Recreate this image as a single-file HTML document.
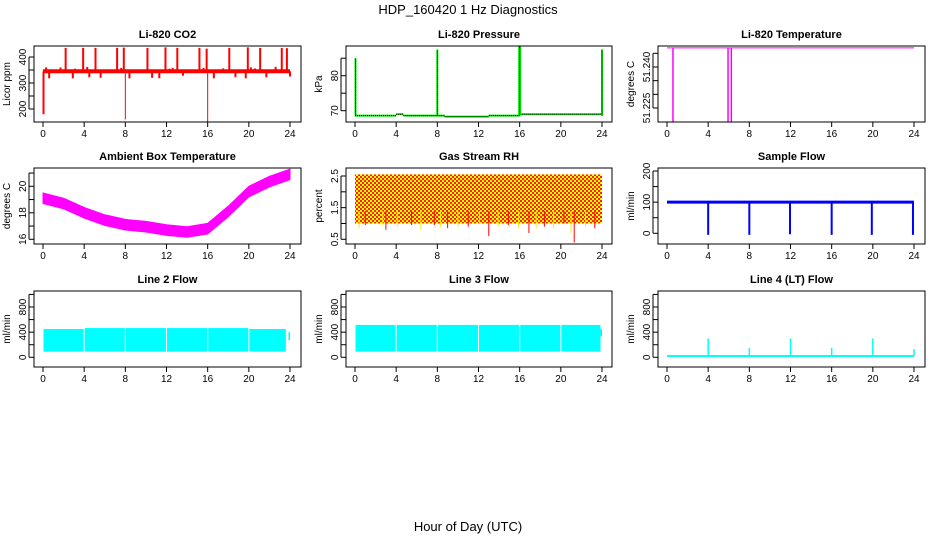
<!DOCTYPE html>
<html><head><meta charset="utf-8">
<style>
html,body{margin:0;padding:0;background:#fff;}
svg{display:block;font-family:"Liberation Sans",Arial,sans-serif;}
</style></head>
<body>
<svg id="chart" width="936" height="540" viewBox="0 0 936 540" xmlns="http://www.w3.org/2000/svg">
<defs>
<pattern id="rhpat" width="4" height="4" patternUnits="userSpaceOnUse">
<rect width="4" height="4" fill="#ffff00"/><rect width="2" height="2" fill="#ff2000"/><rect x="2" y="2" width="2" height="2" fill="#ff2000"/>
</pattern>
</defs>
<text x="468" y="14" text-anchor="middle" font-size="13">HDP_160420  1 Hz Diagnostics</text>
<text x="468" y="531" text-anchor="middle" font-size="13">Hour of Day (UTC)</text>
</svg>
<script>
// ---- data ----
const xTicks = [0,4,8,12,16,20,24];
const co2Base = 345;
const co2UpTimes = [2.2,3.9,5.1,7.2,7.85,10.15,11.9,13.05,15.2,15.9,18.1,19.9,21.1,23.2,23.7];
const co2UpVals = [435,435,435,435,436,435,437,435,435,432,435,437,435,435,434];
const co2SmallTimes = [0.3,0.6,1.7,2.9,3.1,4.3,4.5,5.6,6.4,7.6,8.4,9.1,10.6,11.3,11.7,12.3,12.6,13.6,14.4,15.6,16.6,17.5,18.7,19.7,20.2,20.6,21.7,22.6,23.4,24.0];
const co2SmallVals = [360,318,360,318,355,362,322,320,352,358,318,352,320,318,352,355,358,328,352,358,318,356,322,318,360,356,322,362,352,325];
const co2DownTimes = [0.05,8.0,16.0];
const co2DownVals = [180,160,135];

const presSegStart = [0.0,4.0,4.7,8.7,13.0,16.0];
const presSegEnd = [4.0,4.7,8.7,13.0,16.0,24.0];
const presSegVals = [68.6,69.0,68.6,68.3,68.6,69.0];
const presSpikeTimes = [0.05,8.0,16.0,24.0];
const presSpikeVals = [85.0,87.5,88.3,87.5];

const tempLevel = 51.247;
const tempSpikeTimes = [0.58,5.93,6.25];
const tempSpikeVals = [51.21,51.21,51.21];

const ambTimes = [0,2,4,6,8,10,12,14,16,18,20,22,24];
const ambVals = [19.1,18.7,18.0,17.45,17.1,16.95,16.7,16.55,16.8,18.1,19.6,20.35,20.9];
const ambHalf = 0.4;

const rhTop = 2.55;
const rhBottom = 1.0;
const rhSpikeTimes = [0.4,1.0,2.7,3.0,4.1,5.5,6.4,7.7,8.3,9.0,10.0,11.0,12.1,13.0,13.9,14.9,15.9,16.9,17.6,18.4,19.3,20.3,21.0,21.3,22.4,23.3];
const rhSpikeVals = [0.85,0.95,0.95,0.8,0.9,0.95,0.8,0.95,0.9,0.85,0.9,0.9,1.0,0.6,0.9,0.95,0.85,0.7,0.85,0.9,0.85,1.0,0.7,0.4,0.9,0.85];

const sfBase = 100;
const sfDipTimes = [4.0,8.0,11.95,16.0,19.9,23.9];
const sfDipVals = [-5,-5,-3,-5,-5,-5];

const l2SegStart = [0.05,4.05,8.05,12.05,16.05,20.05,23.85];
const l2SegEnd = [3.95,7.95,11.95,15.95,19.95,23.6,24.0];
const l2SegTop = [450,465,465,465,465,450,400];
const l2SegBottom = [90,90,90,90,90,90,270];

const l3SegStart = [0.05,4.05,8.05,12.05,16.05,20.05,23.85];
const l3SegEnd = [3.95,7.95,11.95,15.95,19.95,23.85,24.0];
const l3SegTop = [515,515,515,515,515,515,450];
const l3SegBottom = [90,90,90,90,90,90,330];

const l4Base = 20;
const l4SpikeTimes = [4,8,12,16,20,24];
const l4SpikeVals = [300,150,300,150,300,130];

// ---- layout ----
const svg = document.getElementById('chart');
const NS = 'http://www.w3.org/2000/svg';
const colX0 = [43,355,667], colBL = [34,346,658], colBR = [301,612,925];
const rowT = [46,168,291], rowB = [122,244,367];
function el(tag, attrs, parent){const e=document.createElementNS(NS,tag);for(const k in attrs)e.setAttribute(k,attrs[k]);(parent||svg).appendChild(e);return e;}

function panel(name, r, c, title, ylab, v1, p1, v2, p2, ticks, labels){
  const g = el('g',{});
  
  
  const x = h => colX0[c] + h*(247/24);
  const y = v => p1 + (v - v1)*(p2 - p1)/(v2 - v1);
  const clipId = 'clip-'+name;
  const cp = el('clipPath',{id:clipId},g); el('rect',{x:colBL[c],y:rowT[r],width:colBR[c]-colBL[c],height:rowB[r]-rowT[r]},cp);
  const plot = el('g',{'clip-path':'url(#'+clipId+')'},g);
  
  
  const t = el('text',{x:(colBL[c]+colBR[c])/2,y:rowT[r]-8,'text-anchor':'middle','font-size':'11','font-weight':'bold'},g);
  t.textContent = title;
  
  
  const yl = el('text',{transform:'translate('+(colBL[c]-24)+','+((rowT[r]+rowB[r])/2)+') rotate(-90)','text-anchor':'middle','font-size':'10'},g);
  yl.textContent = ylab;
  
  
  el('line',{x1:x(0),x2:x(24),y1:rowB[r],y2:rowB[r],stroke:'#000'},g);
  xTicks.forEach(h=>{
    el('line',{x1:x(h),x2:x(h),y1:rowB[r],y2:rowB[r]+5,stroke:'#000'},g);
    const tl = el('text',{x:x(h),y:rowB[r]+15,'text-anchor':'middle','font-size':'10'},g);
    tl.textContent = h;
    
    
  });
  ticks.forEach((v,i)=>{
    el('line',{x1:colBL[c]-5,x2:colBL[c],y1:y(v),y2:y(v),stroke:'#000'},g);
    if(labels[i]){
      const tl = el('text',{transform:'translate('+(colBL[c]-8)+','+y(v)+') rotate(-90)','text-anchor':'middle','font-size':'10'},g);
      tl.textContent = labels[i];
      
      
    }
  });
  el('line',{x1:colBL[c]-5,x2:colBL[c]-5,y1:y(ticks[0]),y2:y(ticks[ticks.length-1]),stroke:'#000'},g);
  const box = el('rect',{x:colBL[c],y:rowT[r],width:colBR[c]-colBL[c],height:rowB[r]-rowT[r],fill:'none',stroke:'#000'},g);
  
  
  return {x,y,plot};
}
function vline(p, x, ya, yb, col, w){el('line',{x1:x,x2:x,y1:ya,y2:yb,stroke:col,'stroke-width':w||1},p);}

// CO2
(function(){
  const P = panel('co2',0,0,'Li-820 CO2','Licor ppm',200,109,400,57,[200,250,300,350,400],['200','','300','','400']);
  co2UpTimes.forEach((h,i)=>vline(P.plot,P.x(h),P.y(co2Base),P.y(co2UpVals[i]),'#ff0000',2));
  co2SmallTimes.forEach((h,i)=>vline(P.plot,P.x(h),P.y(co2Base),P.y(co2SmallVals[i]),'#ff0000',2));
  co2DownTimes.forEach((h,i)=>vline(P.plot,P.x(h),P.y(co2Base),P.y(co2DownVals[i]),'#ff0000',i==0?2:1));
  el('line',{x1:P.x(0),x2:P.x(24),y1:P.y(co2Base),y2:P.y(co2Base),stroke:'#ff0000','stroke-width':4},P.plot);
})();

// Pressure
(function(){
  const P = panel('pressure',0,1,'Li-820 Pressure','kPa',70,110.7,80,75.7,[70,75,80,85],['70','','80','']);
  presSegStart.forEach((s,i)=>{
    el('line',{x1:P.x(s),x2:P.x(presSegEnd[i]),y1:P.y(presSegVals[i]),y2:P.y(presSegVals[i]),stroke:'#00ee00','stroke-width':2},P.plot);
    el('line',{x1:P.x(s),x2:P.x(presSegEnd[i]),y1:P.y(presSegVals[i]),y2:P.y(presSegVals[i]),stroke:'#000','stroke-width':1,'stroke-dasharray':'1,1'},P.plot);
  });
  presSpikeTimes.forEach((h,i)=>{
    vline(P.plot,P.x(h),P.y(68.6),P.y(presSpikeVals[i]),'#00ee00',i==2?3:2);
    el('line',{x1:P.x(h),x2:P.x(h),y1:P.y(68.6),y2:P.y(presSpikeVals[i]),stroke:'#000','stroke-dasharray':'1,1'},P.plot);
  });
})();

// Temperature
(function(){
  const P = panel('li820-temp',0,2,'Li-820 Temperature','degrees C',51.225,108,51.240,67,[51.225,51.230,51.235,51.240,51.245],['51.225','','','51.240','']);
  el('line',{x1:P.x(0),x2:P.x(24),y1:P.y(tempLevel),y2:P.y(tempLevel),stroke:'#ff00ff'},P.plot);
  tempSpikeTimes.forEach((h,i)=>vline(P.plot,P.x(h),P.y(tempLevel),P.y(tempSpikeVals[i]),'#ff00ff',1.5));
})();

// Ambient
(function(){
  const P = panel('ambient-temp',1,0,'Ambient Box Temperature','degrees C',16,239.3,20,186.3,[16,17,18,19,20,21],['16','','18','','20','']);
  let d = 'M'+ambTimes.map((h,i)=>P.x(h)+','+P.y(ambVals[i]+ambHalf)).join(' L');
  for(let i=ambTimes.length-1;i>=0;i--) d += ' L'+P.x(ambTimes[i])+','+P.y(ambVals[i]-ambHalf);
  const p = el('path',{d:d+'Z',fill:'#ff00ff','stroke':'#ff00ff','stroke-width':1,'stroke-linejoin':'round'},P.plot);
  
  
})();

// RH
(function(){
  const P = panel('gas-rh',1,1,'Gas Stream RH','percent',0.5,239.3,2.5,176,[0.5,1,1.5,2,2.5],['0.5','','1.5','','2.5']);
  const rr = el('rect',{x:P.x(0),y:P.y(rhTop),width:P.x(24)-P.x(0),height:P.y(rhBottom)-P.y(rhTop),fill:'url(#rhpat)'},P.plot);
  
  
  rhSpikeTimes.forEach((h,i)=>vline(P.plot,P.x(h),P.y(1.4),P.y(rhSpikeVals[i]),i%2?'#ff0000':'#ffee00',1));
})();

// Sample flow
(function(){
  const P = panel('sample-flow',1,2,'Sample Flow','ml/min',0,233.3,200,171,[0,50,100,150,200],['0','','100','','200']);
  el('line',{x1:P.x(0),x2:P.x(24),y1:P.y(sfBase),y2:P.y(sfBase),stroke:'#0000ff','stroke-width':3},P.plot);
  sfDipTimes.forEach((h,i)=>vline(P.plot,P.x(h),P.y(sfBase),P.y(sfDipVals[i]),'#0000ff',2));
})();

// Flow bands
function flowPanel(name,c,title,st,en,top,bot){
  const P = panel(name,2,c,title,'ml/min',0,357.3,800,307,[0,200,400,600,800,1000],['0','','400','','800','']);
  st.forEach((s,i)=>{
    el('rect',{x:P.x(s),y:P.y(top[i]),width:P.x(en[i])-P.x(s),height:P.y(bot[i])-P.y(top[i]),fill:'#00ffff'},P.plot);
  });
  return P;
}
flowPanel('line2-flow',0,'Line 2 Flow',l2SegStart,l2SegEnd,l2SegTop,l2SegBottom);
flowPanel('line3-flow',1,'Line 3 Flow',l3SegStart,l3SegEnd,l3SegTop,l3SegBottom);
(function(){
  const P = panel('line4-flow',2,2,'Line 4 (LT) Flow','ml/min',0,357.3,800,307,[0,200,400,600,800,1000],['0','','400','','800','']);
  el('line',{x1:P.x(0),x2:P.x(24),y1:P.y(l4Base),y2:P.y(l4Base),stroke:'#00ffff','stroke-width':2},P.plot);
  l4SpikeTimes.forEach((h,i)=>vline(P.plot,P.x(h),P.y(l4Base),P.y(l4SpikeVals[i]),'#00ffff',1.5));
})();
</script>
</body></html>
